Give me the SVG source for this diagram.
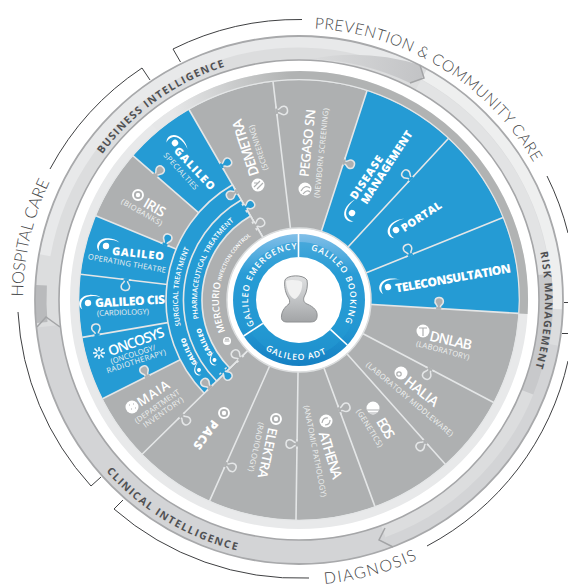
<svg xmlns="http://www.w3.org/2000/svg" xmlns:xlink="http://www.w3.org/1999/xlink" width="568" height="586" viewBox="0 0 568 586">
<style>
text{font-family:"Open Sans","Noto Sans","Liberation Sans",sans-serif;fill:#fff}
.c{text-anchor:middle;dominant-baseline:central}
.n{font-size:14px;font-weight:600}
.b{font-size:11px;font-weight:800}
.s{font-size:7.6px;font-weight:400;fill:#eef0f0}
.ring{font-size:10.5px;font-weight:700;fill:#505153;letter-spacing:1.3px;text-anchor:middle}
.out{font-family:Lato,"Open Sans",sans-serif;font-size:15.5px;font-weight:300;fill:#454648;letter-spacing:.55px;text-anchor:middle}
.hub{font-size:8.6px;font-weight:600;letter-spacing:.95px;text-anchor:middle}
.band{font-size:7.1px;font-weight:600;letter-spacing:.1px;text-anchor:middle}
.bg{font-size:6.6px;font-weight:800;letter-spacing:.1px;text-anchor:middle}
.w{fill:#fff}
.gl{stroke:#aeb0b1;stroke-width:1.2;fill:none}
.br{fill:none;stroke:#3f4042;stroke-width:1}
.div{stroke:#e4e6e7;stroke-width:1.6;fill:none}
.kn{stroke:#e4e6e7;stroke-width:1.5}
.chev{fill:none;stroke:#a3a4a6;stroke-width:1.5}
.sec{stroke:#e4e6e7;stroke-width:1.6}
</style>
<defs>
<linearGradient id="bandG" gradientUnits="userSpaceOnUse" x1="170" y1="100" x2="290" y2="70"><stop offset="0" stop-color="#e6e7e8"/><stop offset="1" stop-color="#b1b3b3"/></linearGradient>
<linearGradient id="topG" gradientUnits="userSpaceOnUse" x1="300" y1="60" x2="420" y2="75"><stop offset="0" stop-color="#dcddde"/><stop offset="1" stop-color="#c3c4c6"/></linearGradient>
<linearGradient id="hubG" x1="0" y1="0" x2="0" y2="1"><stop offset="0" stop-color="#82bfe8"/><stop offset=".3" stop-color="#2a9cd6"/><stop offset=".7" stop-color="#2397d2"/><stop offset="1" stop-color="#1580c3"/></linearGradient>
<linearGradient id="manG" x1="0" y1="0" x2="0" y2="1"><stop offset="0" stop-color="#dfe0e1"/><stop offset=".5" stop-color="#c3c5c7"/><stop offset="1" stop-color="#a2a4a6"/></linearGradient>
<g id="k"><path class="kn" d="M-5,0 L-2.5,0 C-1.5,0 -1,2 -2.5,3.5 C-5.5,6.5 -4.5,11 0,11 C4.5,11 5.5,6.5 2.5,3.5 C1,2 1.5,0 2.5,0 L5,0"/><rect x="-2.6" y="-1.1" width="5.2" height="2.4"/></g>
<g id="gal"><circle r="3.2" class="w"/><path class="w" d="M-6,6 C-12,1 -8,-8 2,-8 C6,-8 10,-7 13,-5 C8,-7 3,-7 -1,-6 C-7,-4 -8,2 -6,6Z"/></g>
<g id="tgt"><circle r="5" fill="none" stroke="#fff" stroke-width="1.9"/><circle r="2.2" class="w"/></g>
<g id="disc"><circle r="6.5" class="w"/></g>
</defs>

<g id="rings">
<circle cx="299" cy="300" r="252" fill="none" stroke="#dcddde" stroke-width="24"/>
<path d="M45,255.2 A258,258 0 0 1 416.1,70.1" fill="none" stroke="#e8e9ea" stroke-width="11"/>
<path d="M310,59.2 A241,241 0 0 1 410,83 L424,78 L420,65 Q365,48 310,59.2Z" fill="url(#topG)"/>
<path d="M424.1,74.4 A258,258 0 0 1 556.8,309" fill="none" stroke="#eeefef" stroke-width="11"/>
<path d="M418.3,84.9 A246,246 0 0 1 544,278.6" fill="none" stroke="#e2e3e4" stroke-width="12"/>
<path d="M544.6,274.2 A247,247 0 0 1 528,392.5" fill="none" stroke="#c8c9cb" stroke-width="14"/>
<path d="M553.1,344.8 A258,258 0 0 1 387.2,542.4" fill="none" stroke="#d3d4d6" stroke-width="11"/>
<path d="M385.2,536.8 A252,252 0 0 1 48.4,326.3" fill="none" stroke="#d3d4d6" stroke-width="24"/>
<path d="M42,322.5 A258,258 0 0 1 41.4,285.2" fill="none" stroke="#b9babc" stroke-width="11"/>
<circle cx="299" cy="300" r="264" fill="none" stroke="#a8a9ab" stroke-width="1.8"/>
<circle cx="299" cy="300" r="240" fill="none" stroke="#a5a6a8" stroke-width="1.6"/>
<path class="chev" d="M420,65 L424,78 L410,83"/>
<path class="chev" d="M393,547 L379,540 L385,528"/>
<path class="chev" d="M37,327 L46,317 L60,327"/>
<circle cx="299" cy="300" r="224.5" fill="none" stroke="#e8e9ea" stroke-width="9"/>
<path d="M154.7,128 A224.5,224.5 0 0 1 523.1,313.7" fill="none" stroke="url(#bandG)" stroke-width="9"/>
<circle cx="299" cy="300" r="220" fill="#aeb0b1"/>
<path d="M299,300 L367,90.8 A220,220 0 0 1 518.6,313.4Z" fill="#259bd4"/>
<path d="M299,300 L102.5,398.8 A220,220 0 0 1 95.7,215.7Z" fill="#259bd4"/>
<path d="M299,300 L132.9,155.7 A220,220 0 0 1 189,109.5Z" fill="#259bd4"/>
<circle cx="299" cy="300" r="220.3" fill="none" stroke="#e4e6e7" stroke-width="1.2"/>
</g>

<g id="connectors">
<path class="div" d="M299,300 L367,90.8 M299,300 L448.4,138.5 M299,300 L503,217.5 M299,300 L518.6,313.4 M299,300 L493.7,402.5 M299,300 L445.3,464.3 M299,300 L374.9,506.4 M299,300 L296,520 M299,300 L209.5,501.1 M299,300 L142.1,454.2 M299,300 L102.5,398.8 M299,300 L82.3,337.4 M299,300 L80.5,274.3 M299,300 L95.7,215.7 M299,300 L132.9,155.7 M299,300 L189,109.5 M299,300 L273,81.5"/>
<use href="#k" fill="#aeb0b1" transform="translate(343.8 162.1) rotate(-72)"/>
<use href="#k" fill="#259bd4" transform="translate(411 178.9) rotate(-47.2) scale(1 -1)"/>
<use href="#k" fill="#259bd4" transform="translate(410.2 255) rotate(-22) scale(1 -1)"/>
<use href="#k" fill="#aeb0b1" transform="translate(438.7 308.5) rotate(3.5) scale(1 -1)"/>
<use href="#k" fill="#aeb0b1" transform="translate(430 369) rotate(27.8)"/>
<use href="#k" fill="#aeb0b1" transform="translate(425.4 441.9) rotate(48.3)"/>
<use href="#k" fill="#aeb0b1" transform="translate(339.4 409.7) rotate(69.8) scale(1 -1)"/>
<use href="#k" fill="#aeb0b1" transform="translate(297 444) rotate(90.8)"/>
<use href="#k" fill="#aeb0b1" transform="translate(225.7 464.5) rotate(114) scale(1 -1)"/>
<use href="#k" fill="#aeb0b1" transform="translate(181.4 415.7) rotate(135.5) scale(1 -1)"/>
<use href="#k" fill="#aeb0b1" transform="translate(147.2 376.3) rotate(153.3)"/>
<use href="#k" fill="#259bd4" transform="translate(97.1 334.9) rotate(170.2)"/>
<use href="#k" fill="#259bd4" transform="translate(126.2 279.6) rotate(186.7) scale(1 -1)"/>
<use href="#k" fill="#259bd4" transform="translate(165 244.5) rotate(202.5)"/>
<use href="#k" fill="#aeb0b1" transform="translate(155.5 175.4) rotate(221)"/>
<use href="#k" fill="#259bd4" transform="translate(221.5 165.8) rotate(240)"/>
<use href="#k" fill="#aeb0b1" transform="translate(276.6 111.3) rotate(263.2)"/>
<path class="br" d="M180.5,62 L173,49 A281,281 0 0 1 302,19.5"/>
<path class="br" d="M50,169 A281,281 0 0 1 142,68 L150,80"/>
<path class="br" d="M18,312 A281,281 0 0 0 91,486 L101,477"/>
<path class="br" d="M123,500 L114,509 A281,281 0 0 0 309,578"/>
<path class="br" d="M427,546 A277,277 0 0 0 568,361"/>
<path class="br" d="M547,176 A277,277 0 0 1 568,233"/>
<path class="br" d="M564,302.5H568M562,333.5H568"/>
</g>

<g id="treatment-bands">
<path class="sec" fill="#259bd4" d="M299,300 L204.2,393.2 A133,133 0 0 1 232.5,184.8Z"/>
<path class="sec" fill="#259bd4" d="M299,300 L216.6,381 A115.5,115.5 0 0 1 241.2,200Z"/>
<path class="sec" fill="#aeb0b1" d="M299,300 L229.8,368 A97,97 0 0 1 250.5,216Z"/>
<use href="#k" fill="#aeb0b1" transform="translate(236.5 191.75) rotate(240) scale(1 -1)"/>
<use href="#k" fill="#259bd4" transform="translate(244.5 208) rotate(240)"/>
<use href="#k" fill="#aeb0b1" transform="translate(254.5 226) rotate(240)"/>
<use href="#k" fill="#aeb0b1" transform="translate(209.9 387.6) rotate(135.5)"/>
<use href="#k" fill="#259bd4" transform="translate(223 371) rotate(135.5) scale(1 -1)"/>
<use href="#k" fill="#aeb0b1" transform="translate(240.4 359) rotate(135.5)"/>
<path id="pS" fill="none" d="M194.2,360.5 A121,121 0 0 1 210.5,217.5"/>
<path id="pP" fill="none" d="M210.7,351 A102,102 0 0 1 264.1,204.1"/>
<path id="pGs" fill="none" d="M221.9,391.9 A120,120 0 0 1 179,300"/>
<path id="pGp" fill="none" d="M233.4,378.1 A102,102 0 0 1 197,296.4"/>
<path id="pM" fill="none" d="M242.4,356.6 A80,80 0 0 1 278.3,222.7"/>
<text class="band"><textPath href="#pS" startOffset="50%">SURGICAL TREATMENT</textPath></text>
<text class="band"><textPath href="#pP" startOffset="50%">PHARMACEUTICAL TREATMENT</textPath></text>
<text class="bg"><textPath href="#pGs" startOffset="50%">GALILEO</textPath></text>
<text class="bg"><textPath href="#pGp" startOffset="50%">GALILEO</textPath></text>
<text class="band" style="letter-spacing:0"><textPath href="#pM" startOffset="50%"><tspan style="font-size:9.5px">MERCURIO</tspan><tspan style="font-size:5.4px"> INFECTION CONTROL</tspan></textPath></text>
<use href="#gal" transform="translate(199 370) rotate(-72) scale(.62)"/>
<use href="#gal" transform="translate(214.5 360) rotate(-72) scale(.62)"/>
<g transform="translate(227 341)"><circle r="4" class="w"/><path class="gl" d="M-2.5,0H2.5M-2,-1.8H2"/></g>
</g>

<g id="ring-labels">
<path id="pBI" fill="none" d="M69,216 A245,245 0 0 1 295,55"/>
<path id="pPC" fill="none" d="M299,28 A272,272 0 0 1 541.4,176.5"/>
<path id="pRM" fill="none" d="M512,177 A246,246 0 0 1 500.5,441"/>
<path id="pCI" fill="none" d="M56.6,388.2 A258,258 0 0 0 334.9,555.5"/>
<path id="pHC" fill="none" d="M60,438 A276,276 0 0 1 144.7,71.2"/>
<path id="pDG" fill="none" d="M201.5,567.8 A285,285 0 0 0 517.3,483.2"/>
<text class="ring"><textPath href="#pBI" startOffset="50%">BUSINESS INTELLIGENCE</textPath></text>
<text class="ring" style="letter-spacing:1px"><textPath href="#pRM" startOffset="50%">RISK MANAGEMENT</textPath></text>
<text class="ring" style="letter-spacing:1.5px"><textPath href="#pCI" startOffset="50%">CLINICAL INTELLIGENCE</textPath></text>
<text class="out"><textPath href="#pPC" startOffset="50%">PREVENTION &amp; COMMUNITY CARE</textPath></text>
<text class="out" style="font-size:16.5px;letter-spacing:-.2px"><textPath href="#pHC" startOffset="50%">HOSPITAL CARE</textPath></text>
<text class="out" style="font-size:16px;letter-spacing:1.5px"><textPath href="#pDG" startOffset="50%">DIAGNOSIS</textPath></text>
</g>

<g id="demetra"><text class="c n" transform="translate(245 148) rotate(-108)" textLength="59">DEMETRA</text><text class="c s" transform="translate(258 148) rotate(-108)" textLength="47">(SCREENING)</text><use href="#disc" x="258" y="185"/><path class="gl" d="M254,187 L260,181 M257,189 L263,183 M254,183 H258"/></g>
<g id="pegaso"><text class="c n" style="font-size:13px" transform="translate(307 143) rotate(-84)" textLength="68">PEGASO SN</text><text class="c s" transform="translate(321 153) rotate(-84)" textLength="90">(NEWBORN SCREENING)</text><use href="#disc" x="305" y="189"/><path class="gl" d="M301,191 Q305,184 310,188 M303,194 Q307,189 310,192"/></g>
<g id="disease"><text class="c b" transform="translate(366 177) rotate(-56)" textLength="50">DISEASE</text><text class="c b" transform="translate(386 167) rotate(-57)" textLength="85">MANAGEMENT</text><use href="#gal" transform="translate(352 213) rotate(-56)"/></g>
<g id="portal"><text class="c b" transform="translate(421 216) rotate(-33)" textLength="46">PORTAL</text><use href="#gal" transform="translate(396 230) rotate(-33)"/></g>
<g id="teleconsultation"><text class="c b" style="font-size:12px" transform="translate(453 278) rotate(-10)" textLength="117">TELECONSULTATION</text><use href="#gal" transform="translate(388 287) rotate(-10)"/></g>
<g id="dnlab"><text class="c n" transform="translate(451 340) rotate(13)" textLength="43">DNLAB</text><text class="c s" transform="translate(443 350) rotate(15)" textLength="55">(LABORATORY)</text><use href="#disc" x="423" y="331"/><path class="gl" d="M419,328 H427 M423,328 V336"/></g>
<g id="halia"><text class="c n" transform="translate(422 391) rotate(38)" textLength="39">HALIA</text><text class="c s" transform="translate(410 399) rotate(40)" textLength="111">(LABORATORY MIDDLEWARE)</text><use href="#disc" x="401" y="373"/><circle cx="399" cy="374" r="2.2" class="gl"/></g>
<g id="eos"><text class="c n" transform="translate(386 428) rotate(60)" textLength="22">EOS</text><text class="c s" transform="translate(370 428) rotate(58)" textLength="43">(GENETICS)</text><use href="#disc" x="373" y="408"/><path class="gl" d="M367,410 H379 M368,413 H378"/></g>
<g id="athena"><text class="c n" transform="translate(331 455) rotate(73)" textLength="49">ATHENA</text><text class="c s" transform="translate(315.5 451) rotate(79)" textLength="93">(ANATOMIC PATHOLOGY)</text><use href="#disc" x="326" y="421"/><path class="gl" d="M322,423 Q323,417 328,418 M330,420 Q330,425 325,425"/></g>
<g id="elektra"><text class="c n" style="font-size:13px" transform="translate(268 453) rotate(102)" textLength="51">ELEKTRA</text><text class="c s" transform="translate(256.5 447) rotate(102)" textLength="50">(RADIOLOGY)</text><use href="#tgt" x="276" y="419"/></g>
<g id="pacs"><text class="c b" style="font-size:12px" transform="translate(206 435) rotate(127)" textLength="33">PACS</text><use href="#tgt" x="224" y="413"/></g>
<g id="maia"><text class="c n" style="font-size:13px" transform="translate(153 393) rotate(-33)" textLength="36">MAIA</text><text class="c s" transform="translate(157 406) rotate(-35)" textLength="53">(DEPARTMENT</text><text class="c s" transform="translate(163 412) rotate(-35)" textLength="47">INVENTORY)</text><use href="#disc" x="132" y="407"/><path class="gl" d="M129,405 h1 M133,404 h1 M131,409 h1 M135,408 h1"/></g>
<g id="oncosys"><text class="c n" transform="translate(136 341) rotate(-20)" textLength="59">ONCOSYS</text><text class="c s" transform="translate(133 354) rotate(-18)" textLength="47">(ONCOLOGY/</text><text class="c s" transform="translate(136 361) rotate(-18)" textLength="62">RADIOTHERAPY)</text><path d="M93,353H105M99,347V359M94.5,348.5L103.5,357.5M103.5,348.5L94.5,357.5" stroke="#fff" stroke-width="1.5" fill="none"/><circle cx="99" cy="353" r="2" fill="#259bd4"/></g>
<g id="galileo-cis"><text class="c b" style="font-size:12px" transform="translate(130 301) rotate(-3)" textLength="70">GALILEO CIS</text><text class="c s" transform="translate(123 312) rotate(-2)" textLength="52">(CARDIOLOGY)</text><use href="#gal" transform="translate(88 303) rotate(-3)"/></g>
<g id="galileo-theatre"><text class="c b" transform="translate(138 253) rotate(6)" textLength="52">GALILEO</text><text class="c s" transform="translate(127 263) rotate(10)" textLength="79">OPERATING THEATRE</text><use href="#gal" transform="translate(106 246) rotate(6)"/></g>
<g id="iris"><text class="c n" transform="translate(155 207) rotate(30)" textLength="23">IRIS</text><text class="c s" transform="translate(142 212) rotate(30)" textLength="46">(BIOBANKS)</text><use href="#tgt" x="138" y="195"/></g>
<g id="galileo-specialties"><text class="c b" transform="translate(195 168) rotate(47)" textLength="54">GALILEO</text><text class="c s" transform="translate(181 171) rotate(48)" textLength="47">SPECIALTIES</text><use href="#gal" transform="translate(175 143) rotate(47)"/></g>

<g id="hub">
<circle cx="299" cy="300" r="72" fill="#fff" stroke="#dcdedf" stroke-width="1.5"/>
<circle cx="299" cy="300" r="66" fill="url(#hubG)"/>
<circle cx="299" cy="300" r="58" fill="#259bd4" opacity=".55"/>
<circle cx="299" cy="300" r="43" fill="#fff"/>
<path d="M298.5,257 V234 M330.4,329.3 L347.3,345 M262.9,323.4 L243.6,336" stroke="#fff" stroke-width="1.6" fill="none"/>
<path id="pE" fill="none" d="M266.2,339.1 A51,51 0 0 1 315.6,251.8"/>
<path id="pB" fill="none" d="M285.8,250.7 A51,51 0 0 1 328.3,341.8"/>
<path id="pA" fill="none" d="M245.5,327.2 A60,60 0 0 0 349.3,332.7"/>
<text class="hub"><textPath href="#pE" startOffset="50%">GALILEO EMERGENCY</textPath></text>
<text class="hub"><textPath href="#pB" startOffset="50%">GALILEO BOOKING</textPath></text>
<text class="hub"><textPath href="#pA" startOffset="50%">GALILEO ADT</textPath></text>
<path d="M285,280 C287,275 303,274 307,280 C308,285 307,292 304,297 C303,300 304,303 307,304 C314,307 318,311 317,317 C316.5,321 314,322 310,322 L287,322 C283,322 281,320 281.5,316 C282,310 286,306 289,304 C290,302 290,300 288,297 C285,292 284,285 285,280Z" fill="url(#manG)" stroke="#8e9092" stroke-width="1"/>
<path d="M286,281 C291,279 300,280 302,282 C303,288 300,296 295,299 C291,298 287,293 286,281Z" fill="#f1f1f1"/>
</g>
</svg>
